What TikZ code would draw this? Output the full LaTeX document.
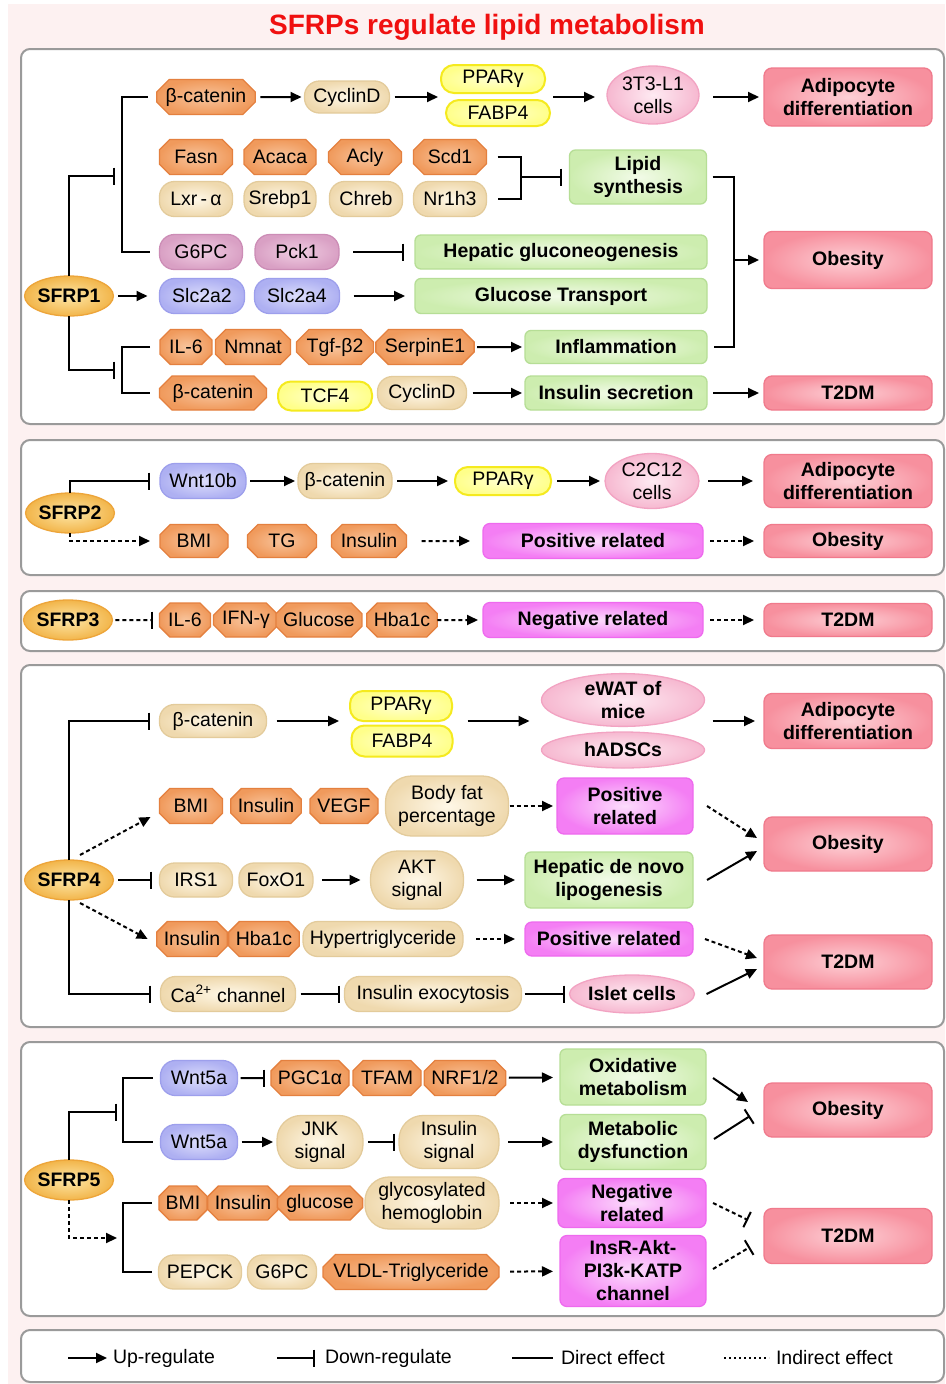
\documentclass[tikz,border=0pt]{standalone}
\usepackage{fontspec}
\setmainfont{Liberation Sans}
\usetikzlibrary{shapes.misc,shapes.geometric,arrows.meta,calc}
\definecolor{bgpink}{HTML}{FDF1F1}
\definecolor{panelgray}{HTML}{9A9A9A}
\definecolor{titred}{HTML}{F01010}
\definecolor{octO}{HTML}{F09A5C}\definecolor{octI}{HTML}{F8C49C}\definecolor{octD}{HTML}{E4803F}
\definecolor{begI}{HTML}{FFF8E8}\definecolor{begO}{HTML}{EFD9AE}\definecolor{begD}{HTML}{E3CB9B}
\definecolor{pkI}{HTML}{F0CDE2}\definecolor{pkO}{HTML}{D9A0C4}\definecolor{pkD}{HTML}{CC8DB6}
\definecolor{blI}{HTML}{DCDDFB}\definecolor{blO}{HTML}{AEB0F2}\definecolor{blD}{HTML}{9D9FEC}
\definecolor{yeI}{HTML}{FFFFD0}\definecolor{yeO}{HTML}{FFFF8A}\definecolor{yeD}{HTML}{F5EA1E}
\definecolor{peI}{HTML}{FEEAF2}\definecolor{peO}{HTML}{F6B8D0}\definecolor{peD}{HTML}{F2A3C2}
\definecolor{grI}{HTML}{F2FBE8}\definecolor{grO}{HTML}{CDEDAF}\definecolor{grD}{HTML}{B6DE96}
\definecolor{rdI}{HTML}{FDD0D6}\definecolor{rdO}{HTML}{F7909E}\definecolor{rdD}{HTML}{F07A8C}
\definecolor{mgI}{HTML}{FCDDFC}\definecolor{mgO}{HTML}{F47EF4}\definecolor{mgD}{HTML}{EE6AEE}
\definecolor{sfI}{HTML}{FDE6A6}\definecolor{sfO}{HTML}{F2B54A}\definecolor{sfD}{HTML}{EDA53A}
\newcommand\myfn{\fontsize{19.5}{23}\selectfont}
\newcommand\myfb{\fontsize{19.5}{23}\selectfont\bfseries}
\tikzset{
 nd/.style={inner sep=0pt, outer sep=0pt, align=center, font=\myfn, line width=1.3pt},
 octo/.style={nd, chamfered rectangle, chamfered rectangle xsep=9pt, draw=octD, inner color=octI, outer color=octO, minimum height=35pt},
 pill/.style={nd, rectangle, rounded corners=15pt, minimum height=35pt},
 beg/.style={pill, draw=begD, inner color=begI, outer color=begO},
 gpc/.style={pill, draw=pkD, inner color=pkI, outer color=pkO},
 lav/.style={pill, draw=blD, inner color=blI, outer color=blO},
 yel/.style={nd, rectangle, rounded corners=13pt, draw=yeD, line width=2pt, inner color=yeI, outer color=yeO, minimum height=28pt},
 cell/.style={nd, ellipse, draw=peD, inner color=peI, outer color=peO},
 grn/.style={nd, rectangle, rounded corners=6pt, draw=grD, inner color=grI, outer color=grO, font=\myfb, minimum height=35pt},
 dis/.style={nd, rectangle, rounded corners=8pt, draw=rdD, inner color=rdI, outer color=rdO, font=\myfb, minimum width=168pt},
 mag/.style={nd, rectangle, rounded corners=7pt, draw=mgD, inner color=mgI, outer color=mgO, font=\myfb},
 sfrp/.style={nd, ellipse, draw=sfD, inner color=sfI, outer color=sfO, font=\myfb, minimum width=78pt, minimum height=40pt},
 ln/.style={line width=2pt, black},
 up/.style={ln, -{Triangle[length=11pt,width=10pt]}},
 inh/.style={ln, -{Bar[width=17pt]}},
 dt/.style={dash pattern=on 4pt off 3pt},
 panel/.style={draw=panelgray, line width=2pt, fill=white, rounded corners=9pt},
}
\begin{document}
\begin{tikzpicture}[x=1pt,y=-1pt]
\useasboundingbox (0,0) rectangle (945,1384);
\fill[white] (0,0) rectangle (945,1384);
\fill[bgpink] (8,4) rectangle (945,1384);
\node[font=\fontsize{28}{30}\selectfont\bfseries, text=titred, inner sep=0pt] (title) at (487,27) {SFRPs regulate lipid metabolism};
\draw[panel] (21,49) rectangle (944,424);
\draw[panel] (21,440) rectangle (944,575);
\draw[panel] (21,591) rectangle (944,651);
\draw[panel] (21,665) rectangle (944,1027);
\draw[panel] (21,1042) rectangle (944,1316);
\draw[panel] (21,1330) rectangle (944,1382);

% ---------- SFRP1 ----------
\node[sfrp] (s1) at (69,296) {SFRP1};
\node[octo, minimum width=94pt] (a1) at (206,97) {β-catenin};
\node[beg, minimum width=85pt, minimum height=32pt] (a2) at (347,97) {CyclinD};
\node[yel, minimum width=104pt, minimum height=28pt] (a3) at (493,79) {PPARγ};
\node[yel, minimum width=104pt, minimum height=26pt] (a4) at (498,113) {FABP4};
\node[cell, minimum width=92pt, minimum height=58pt] (a5) at (653,95) {3T3-L1\\cells};
\node[dis, minimum height=58pt] (a6) at (848,97) {Adipocyte\\differentiation};
\draw[up, shorten <=5pt, shorten >=3pt] (a1) -- (a2);
\draw[up, shorten <=5pt, shorten >=3pt] (a2) -- (a2 -| a3.west);
\draw[up, shorten <=3pt, shorten >=12pt] (a4.east |- a1) -- (a5.west |- a1);
\draw[up, shorten <=14pt, shorten >=5pt] (a5.east |- a1) -- (a6.west);

\node[octo, minimum width=73pt] (b1) at (196,157) {Fasn};
\node[octo, minimum width=72pt] (b2) at (280,157) {Acaca};
\node[octo, minimum width=73pt] (b3) at (365,157) {Acly};
\node[octo, minimum width=73pt] (b4) at (450,157) {Scd1};
\node[beg, minimum width=73pt] (c1) at (196,199) {Lxr\,-\,α};
\node[beg, minimum width=72pt] (c2) at (280,199) {Srebp1};
\node[beg, minimum width=73pt] (c3) at (366,199) {Chreb};
\node[beg, minimum width=73pt] (c4) at (450,199) {Nr1h3};
\node[grn, minimum width=137pt, minimum height=54pt] (d1) at (638,177) {Lipid\\synthesis};
\coordinate (j1) at (521,177);
\draw[ln] ([xshift=11pt]b4.east) -| (j1) |- ([xshift=11pt]c4.east);
\draw[inh, shorten >=8pt] (j1) -- (d1);

\node[gpc, minimum width=83pt] (f1) at (201,252) {G6PC};
\node[gpc, minimum width=84pt] (f2) at (297,252) {Pck1};
\node[grn, minimum width=292pt, minimum height=34pt] (e1) at (561,252) {Hepatic gluconeogenesis};
\draw[inh, shorten <=14pt, shorten >=11pt] (f2) -- (e1);

\node[lav, minimum width=85pt] (h1) at (202,296) {Slc2a2};
\node[lav, minimum width=85pt] (h2) at (297,296) {Slc2a4};
\node[grn, minimum width=292pt] (e2) at (561,296) {Glucose Transport};
\draw[up, shorten <=5pt, shorten >=12pt] (s1) -- (h1);
\draw[up, shorten <=14pt, shorten >=10pt] (h2) -- (e2);

\node[octo, minimum width=52pt] (i1) at (186,347) {IL-6};
\node[octo, minimum width=75pt] (i2) at (253,347) {Nmnat};
\node[octo, minimum width=77pt] (i3) at (335,347) {Tgf-β2};
\node[octo, minimum width=94pt] (i4) at (425,347) {SerpinE1};
\node[grn, minimum width=182pt, minimum height=33pt] (g1) at (616,347) {Inflammation};
\draw[up, shorten <=3pt, shorten >=3pt] (i4) -- (g1);

\node[octo, minimum width=107pt, minimum height=34pt] (m1) at (213,393) {β-catenin};
\node[yel, minimum width=94pt, minimum height=29pt] (m2) at (325,396) {TCF4};
\node[beg, minimum width=89pt, minimum height=33pt] (m3) at (422,393) {CyclinD};
\node[grn, minimum width=182pt, minimum height=34pt] (g2) at (616,393) {Insulin secretion};
\node[dis, minimum height=34pt] (t1) at (848,393) {T2DM};
\draw[up, shorten <=6pt, shorten >=3pt] (m3) -- (g2);
\draw[up, shorten <=6pt, shorten >=5pt] (g2) -- (t1);

\node[dis, minimum height=57pt] (o1) at (848,260) {Obesity};
\coordinate (j2) at (734,260);
\draw[ln, shorten <=6pt] (d1.east) -| (j2);
\draw[ln, shorten <=7pt] (g1.east) -| (j2);
\draw[up, shorten >=5pt] (j2) -- (o1.west);

\coordinate (br1) at (122,176);
\draw[ln] ([xshift=-9pt]a1.west) -| (br1) |- ([xshift=-10pt]f1.west);
\draw[inh] (s1.north) |- ([xshift=-7pt]br1);
\coordinate (br2) at (122,370);
\draw[ln] ([xshift=-10pt]i1.west) -| (br2) |- ([xshift=-10pt]m1.west);
\draw[inh] (s1.south) |- ([xshift=-7pt]br2);

% ---------- SFRP2 ----------
\node[sfrp, minimum width=80pt] (s2) at (70,513) {SFRP2};
\node[lav, minimum width=86pt] (n1) at (203,481) {Wnt10b};
\node[beg, minimum width=94pt] (n2) at (345,481) {β-catenin};
\node[yel, minimum width=96pt, minimum height=28pt] (n3) at (503,481) {PPARγ};
\node[cell, minimum width=94pt, minimum height=55pt] (n4) at (652,481) {C2C12\\cells};
\node[dis, minimum height=53pt] (n5) at (848,481) {Adipocyte\\differentiation};
\draw[inh, shorten >=10pt] (s2.north) |- (n1.west);
\draw[up, shorten <=4pt, shorten >=3pt] (n1) -- (n2);
\draw[up, shorten <=5pt, shorten >=7pt] (n2) -- (n3);
\draw[up, shorten <=6pt, shorten >=5pt] (n3) -- (n4);
\draw[up, shorten <=9pt, shorten >=11pt] (n4) -- (n5);

\node[octo, minimum width=68pt, minimum height=33pt] (p1) at (194,541) {BMI};
\node[octo, minimum width=69pt, minimum height=33pt] (p2) at (282,541) {TG};
\node[octo, minimum width=75pt, minimum height=33pt] (p3) at (369,541) {Insulin};
\node[mag, minimum width=220pt, minimum height=35pt] (q1) at (593,541) {Positive related};
\node[dis, minimum height=33pt] (q2) at (848,541) {Obesity};
\draw[up, dt, shorten >=10pt] (s2.south) |- (p1.west);
\draw[up, dt, shorten <=15pt, shorten >=13pt] (p3) -- (q1);
\draw[up, dt, shorten <=7pt, shorten >=10pt] (q1) -- (q2);

% ---------- SFRP3 ----------
\node[sfrp, minimum width=79pt] (s3) at (68,620) {SFRP3};
\node[octo, minimum width=51pt, minimum height=34pt] (r1) at (185,620) {IL-6};
\node[octo, minimum width=62pt, minimum height=34pt] (r2) at (246,620) {IFN-γ};
\node[octo, minimum width=76pt, minimum height=34pt] (r3) at (319,620) {Glucose};
\node[octo, minimum width=70pt, minimum height=34pt] (r4) at (402,620) {Hba1c};
\node[mag, minimum width=220pt, minimum height=35pt] (r5) at (593,620) {Negative related};
\node[dis, minimum height=33pt] (r6) at (848,620) {T2DM};
\draw[inh, dt, shorten <=3pt, shorten >=7pt] (s3) -- (r1);
\draw[up, dt, shorten >=5pt] (r4) -- (r5);
\draw[up, dt, shorten <=7pt, shorten >=10pt] (r5) -- (r6);

% ---------- SFRP4 ----------
\node[sfrp] (s4) at (69,880) {SFRP4};
\node[beg, minimum width=107pt, minimum height=33pt] (u1) at (213,721) {β-catenin};
\node[yel, minimum width=102pt, minimum height=30pt] (u2) at (401,706) {PPARγ};
\node[yel, minimum width=101pt, minimum height=31pt] (u3) at (402,741) {FABP4};
\node[cell, minimum width=163pt, minimum height=50pt, font=\myfb] (u4) at (623,700) {eWAT of\\mice};
\node[cell, minimum width=163pt, minimum height=36pt, font=\myfb] (u5) at (623,750) {hADSCs};
\node[dis, minimum height=55pt] (u6) at (848,721) {Adipocyte\\differentiation};
\draw[inh, shorten >=10pt] (s4.north) |- (u1.west);
\draw[up, shorten <=10pt, shorten >=11pt] (u1) -- (u1 -| u2.west);
\draw[up, shorten <=15pt, shorten >=12pt] (u3.east |- u1) -- (u4.west |- u1);
\draw[up, shorten <=8pt, shorten >=9pt] (u4.east |- u1) -- (u6.west);

\node[octo, minimum width=63pt] (v1) at (191,806) {BMI};
\node[octo, minimum width=68pt] (v2) at (266,806) {Insulin};
\node[octo, minimum width=68pt] (v3) at (344,806) {VEGF};
\node[beg, minimum width=123pt, minimum height=60pt, rounded corners=26pt] (v4) at (447,806) {Body fat\\percentage};
\node[mag, minimum width=136pt, minimum height=56pt] (v5) at (625,806) {Positive\\related};
\node[dis, minimum height=54pt] (v6) at (848,844) {Obesity};
\draw[up, dt, shorten <=1pt, shorten >=4pt] (v4) -- (v5);
\draw[up, dt] ($(v5.east)+(14,0)$) -- ($(v6.west)+(-7,-6)$);
\draw[up, dt] ($(s4)+(11,-25)$) -- ($(v1.west)+(-9,11)$);

\node[beg, minimum width=73pt, minimum height=34pt] (w1) at (196,880) {IRS1};
\node[beg, minimum width=74pt, minimum height=34pt] (w2) at (276,880) {FoxO1};
\node[beg, minimum width=93pt, minimum height=58pt, rounded corners=27pt] (w3) at (417,880) {AKT\\signal};
\node[grn, minimum width=168pt, minimum height=56pt] (w4) at (609,880) {Hepatic de novo\\lipogenesis};
\draw[inh, shorten <=5pt, shorten >=8pt] (s4) -- (w1);
\draw[up, shorten <=9pt, shorten >=10pt] (w2) -- (w3);
\draw[up, shorten <=13pt, shorten >=10pt] (w3) -- (w4);
\draw[up] ($(w4.east)+(14,0)$) -- ($(v6.west)+(-7,7)$);

\node[octo, minimum width=65pt] (x1) at (192,939) {Insulin};
\node[octo, minimum width=65pt] (x2) at (264,939) {Hba1c};
\node[beg, minimum width=160pt] (x3) at (383,939) {Hypertriglyceride};
\node[mag, minimum width=168pt, minimum height=34pt] (x4) at (609,939) {Positive related};
\node[dis, minimum height=54pt] (x5) at (848,962) {T2DM};
\draw[up, dt] ($(s4)+(11,23)$) -- ($(x1.west)+(-9,0)$);
\draw[up, dt, shorten <=13pt, shorten >=10pt] (x3) -- (x4);
\draw[up, dt] ($(x4.east)+(12,0)$) -- ($(x5.west)+(-7,-4)$);

\node[beg, minimum width=135pt] (y1) at (228,994) {Ca\textsuperscript{2+} channel};
\node[beg, minimum width=177pt] (y2) at (433,994) {Insulin exocytosis};
\node[cell, minimum width=125pt, minimum height=38pt, font=\myfb] (y3) at (632,994) {Islet cells};
\draw[inh, shorten >=10pt] (s4.south) |- (y1.west);
\draw[inh, shorten <=5pt, shorten >=5pt] (y1) -- (y2);
\draw[inh, shorten <=3pt, shorten >=5pt] (y2) -- (y3);
\draw[up] ($(y3.east)+(12,0)$) -- ($(x5.west)+(-7,7)$);

% ---------- SFRP5 ----------
\node[sfrp] (s5) at (69,1180) {SFRP5};
\coordinate (br3) at (123,1112);
\node[lav, minimum width=77pt] (z1) at (199,1078) {Wnt5a};
\node[octo, minimum width=77pt] (z2) at (310,1078) {PGC1α};
\node[octo, minimum width=68pt] (z3) at (387,1078) {TFAM};
\node[octo, minimum width=80pt] (z4) at (465,1078) {NRF1/2};
\node[grn, minimum width=146pt, minimum height=56pt] (z6) at (633,1077) {Oxidative\\metabolism};
\node[dis, minimum height=54pt] (z7) at (848,1110) {Obesity};
\node[lav, minimum width=77pt] (z5) at (199,1142) {Wnt5a};
\node[beg, minimum width=86pt, minimum height=53pt, rounded corners=24pt] (z8) at (320,1142) {JNK\\signal};
\node[beg, minimum width=100pt, minimum height=53pt, rounded corners=24pt] (z9) at (449,1142) {Insulin\\signal};
\node[grn, minimum width=146pt, minimum height=55pt] (z10) at (633,1142) {Metabolic\\dysfunction};
\draw[ln] ([xshift=-8pt]z1.west) -| (br3) |- ([xshift=-8pt]z5.west);
\draw[inh] (s5.north) |- ([xshift=-6pt]br3);
\draw[inh, shorten <=3pt, shorten >=6pt] (z1) -- (z2);
\draw[up, shorten <=3pt, shorten >=7pt] (z4) -- (z6);
\draw[up] ($(z6.east)+(7,1)$) -- ($(z7.west)+(-16,-8)$);
\draw[up, shorten <=4pt, shorten >=4pt] (z5) -- (z8);
\draw[inh, shorten <=5pt, shorten >=4pt] (z8) -- (z9);
\draw[up, shorten <=9pt, shorten >=7pt] (z9) -- (z10);
\draw[inh] ($(z10.east)+(8,-3)$) -- ($(z7.west)+(-14,6)$);

\coordinate (br4) at (123,1238);
\node[octo, minimum width=48pt, minimum height=34pt] (aa1) at (183,1203) {BMI};
\node[octo, minimum width=67pt, minimum height=34pt] (aa2) at (243,1203) {Insulin};
\node[octo, minimum width=79pt, minimum height=34pt] (aa3) at (320,1203) {glucose};
\node[beg, minimum width=134pt, minimum height=52pt, rounded corners=24pt] (aa4) at (432,1203) {glycosylated\\hemoglobin};
\node[mag, minimum width=148pt, minimum height=49pt] (aa5) at (632,1203) {Negative\\related};
\node[dis, minimum height=55pt] (aa6) at (848,1236) {T2DM};
\node[beg, minimum width=83pt, minimum height=34pt] (bb1) at (200,1272) {PEPCK};
\node[beg, minimum width=69pt, minimum height=34pt] (bb2) at (282,1272) {G6PC};
\node[octo, minimum width=176pt, minimum height=35pt] (bb3) at (411,1272) {VLDL-Triglyceride};
\node[mag, minimum width=146pt, minimum height=71pt] (bb4) at (633,1271) {InsR-Akt-\\PI3k-KATP\\channel};
\draw[ln] ([xshift=-7pt]aa1.west) -| (br4) |- ([xshift=-7pt]bb1.west);
\draw[up, dt] (s5.south) |- ([xshift=-6pt]br4);
\draw[up, dt, shorten <=11pt, shorten >=5pt] (aa4) -- (aa5);
\draw[inh, dt] ($(aa5.east)+(7,0)$) -- ($(aa6.west)+(-16,-16)$);
\draw[up, dt, shorten <=11pt, shorten >=7pt] (bb3) -- (bb4);
\draw[inh, dt] ($(bb4.east)+(7,-2)$) -- ($(aa6.west)+(-14,11)$);

% ---------- Legend ----------
\coordinate (lg1) at (68,1358);
\node[nd, anchor=west] (lt1) at (113,1358) {Up-regulate};
\draw[up, shorten >=6pt] (lg1) -- (lt1.west);
\coordinate (lg2) at (277,1358);
\node[nd, anchor=west] (lt2) at (325,1358) {Down-regulate};
\draw[inh, shorten >=10pt] (lg2) -- (lt2.west);
\coordinate (lg3) at (512,1358);
\node[nd, anchor=west] (lt3) at (561,1358) {Direct effect};
\draw[ln, shorten >=8pt] (lg3) -- (lt3.west);
\coordinate (lg4) at (724,1358);
\node[nd, anchor=west] (lt4) at (776,1358) {Indirect effect};
\draw[ln, line width=1.5pt, dash pattern=on 2pt off 3pt, shorten >=7pt] (lg4) -- (lt4.west);
\end{tikzpicture}
\end{document}
